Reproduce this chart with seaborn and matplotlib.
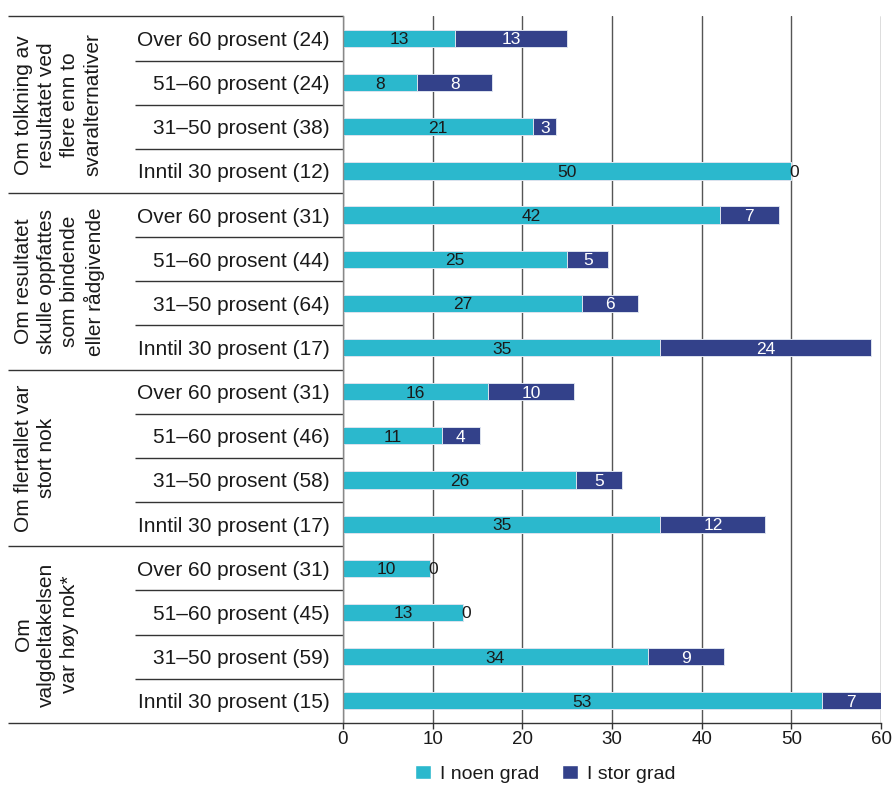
import matplotlib
matplotlib.use("Agg")
import matplotlib.pyplot as plt
import seaborn as sns
import pandas as pd
from matplotlib.transforms import blended_transform_factory
from matplotlib.patches import Patch

# ---------------- data ----------------
group_labels = [
    "Om tolkning av\nresultatet ved\nflere enn to\nsvaralternativer",
    "Om resultatet\nskulle oppfattes\nsom bindende\neller rådgivende",
    "Om flertallet var\nstort nok",
    "Om\nvalgdeltakelsen\nvar høy nok*",
]
row_labels = [
    "Over 60 prosent (24)", "51–60 prosent (24)", "31–50 prosent (38)", "Inntil 30 prosent (12)",
    "Over 60 prosent (31)", "51–60 prosent (44)", "31–50 prosent (64)", "Inntil 30 prosent (17)",
    "Over 60 prosent (31)", "51–60 prosent (46)", "31–50 prosent (58)", "Inntil 30 prosent (17)",
    "Over 60 prosent (31)", "51–60 prosent (45)", "31–50 prosent (59)", "Inntil 30 prosent (15)",
]
# bar lengths
noen = [12.5, 8.3, 21.2, 50.0, 42.0, 25.0, 26.6, 35.4, 16.2, 11.0, 26.0, 35.4, 9.7, 13.4, 34.0, 53.4]
stor = [12.5, 8.3, 2.6, 0.0, 6.6, 4.6, 6.3, 23.5, 9.6, 4.3, 5.1, 11.7, 0.0, 0.0, 8.5, 6.6]
# printed labels
noen_lbl = [13, 8, 21, 50, 42, 25, 27, 35, 16, 11, 26, 35, 10, 13, 34, 53]
stor_lbl = [13, 8, 3, 0, 7, 5, 6, 24, 10, 4, 5, 12, 0, 0, 9, 7]
series_names = ["I noen grad", "I stor grad"]
x_ticks = [0, 10, 20, 30, 40, 50, 60]

TEAL = "#2BB8CD"
NAVY = "#33418A"

sns.set_theme(style="white")
plt.rcParams['font.family'] = ['Liberation Sans', 'DejaVu Sans']

df = pd.DataFrame({
    "key": [f"r{i:02d}" for i in range(len(row_labels))],
    "noen": noen,
    "stor": stor,
})
df["total"] = df["noen"] + df["stor"]

W, H = 894, 785
fig = plt.figure(figsize=(W / 100, H / 100), dpi=100)
ax_top_px, ax_bot_px = 16.4, 722.8
ax = fig.add_axes([343 / W, 1 - ax_bot_px / H, 538 / W, (ax_bot_px - ax_top_px) / H])

bar_w = 0.39
sns.barplot(data=df, x="total", y="key", color=NAVY, saturation=1, width=bar_w,
            errorbar=None, edgecolor="#dde3ee", linewidth=0.7, ax=ax)
sns.barplot(data=df, x="noen", y="key", color=TEAL, saturation=1, width=bar_w,
            errorbar=None, edgecolor="#dde3ee", linewidth=0.7, ax=ax)

n = len(row_labels)
ax.set_xlim(0, 60)
ax.set_ylim(n - 0.5, -0.5)
ax.set_xticks(x_ticks)
ax.set_xticklabels([str(t) for t in x_ticks])
ax.set_yticks(range(n))
ax.set_yticklabels(row_labels)
ax.set_xlabel("")
ax.set_ylabel("")

ax.set_axisbelow(True)
ax.xaxis.grid(True, color="#555555", linewidth=1.0)
ax.yaxis.grid(False)
for s in ["top", "right"]:
    ax.spines[s].set_visible(False)
ax.spines["left"].set_color("#888888")
ax.spines["left"].set_linewidth(1.0)
ax.spines["bottom"].set_color("#333333")
ax.spines["bottom"].set_linewidth(1.0)
ax.tick_params(axis="x", bottom=True, length=4, width=1, color="#333333",
               direction="out", pad=2, labelsize=13.5, labelcolor="#1a1a1a")
ax.tick_params(axis="y", left=False, length=0, pad=9.5, labelsize=15, labelcolor="#1a1a1a")

# value labels
for i in range(n):
    ax.text(noen[i] / 2, i, str(noen_lbl[i]), ha="center", va="center_baseline",
            fontsize=12.5, color="#1a1a1a")
    if stor_lbl[i] > 0:
        ax.text(noen[i] + stor[i] / 2, i, str(stor_lbl[i]), ha="center", va="center_baseline",
                fontsize=12.5, color="white")
    else:
        ax.text(noen[i] + 0.35, i, "0", ha="center", va="center_baseline",
                fontsize=12.5, color="#1a1a1a")

# separators and group labels
trans = blended_transform_factory(ax.transAxes, ax.transData)
x_group = (8 - 343) / 538
x_row = (135 - 343) / 538
for k in range(n + 1):
    b = k - 0.5
    x0 = x_group if k % 4 == 0 else x_row
    ax.plot([x0, 0], [b, b], transform=trans, color="#333333", linewidth=1.0,
            clip_on=False, solid_capstyle="butt")

x_glab = (14 - 343) / 538
for g, txt in enumerate(group_labels):
    ax.text(x_glab, g * 4 + 1.5, txt, transform=trans, rotation=90, ha="left",
            va="center", multialignment="center", fontsize=15, color="#1a1a1a",
            linespacing=1.28)

handles = [Patch(facecolor=TEAL), Patch(facecolor=NAVY)]
fig.legend(handles, series_names, loc="upper center", bbox_to_anchor=(0.610, 0.026),
           ncol=2, frameon=False, fontsize=14, handlelength=0.8, handleheight=0.8,
           handletextpad=0.45, columnspacing=1.2, borderaxespad=0, borderpad=0,
           labelcolor="#1a1a1a")

fig.savefig("out.png", dpi=100)
